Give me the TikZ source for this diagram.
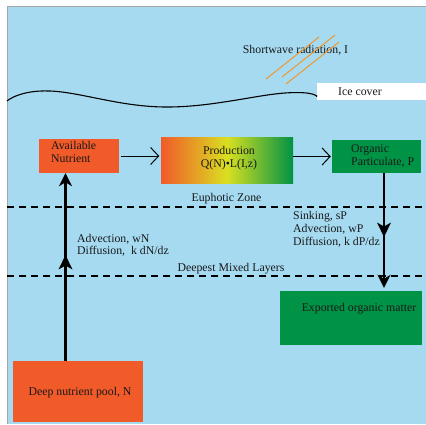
\documentclass[tikz,border=0pt]{standalone}
\usepackage{fontspec}
\setmainfont{Liberation Serif}
\usetikzlibrary{arrows.meta,calc}
\definecolor{sea}{HTML}{A5DAF1}
\definecolor{nutorange}{HTML}{F15A29}
\definecolor{orggreen}{HTML}{009245}
\definecolor{prodyellow}{HTML}{D9E021}
\definecolor{rayorange}{HTML}{F7931E}
\begin{document}
\begin{tikzpicture}[x=1pt,y=-1pt,
  box/.style={draw=none, inner sep=0pt},
  lbl/.style={font=\fontsize{11.8}{12.6}\selectfont, inner sep=0pt, align=left, text=black!90},
  thinarrow/.style={line width=1pt, -{Straight Barb[length=8pt,width=17pt,line width=1pt]}},
  thickarrow/.style={line width=2.2pt, -{Stealth[length=13pt,width=13pt,inset=4pt]}},
  dashline/.style={line width=1.1pt, dash pattern=on 7pt off 5pt},
  ray/.style={rayorange, line width=0.9pt}]
\useasboundingbox (0,0) rectangle (426,424);
\fill[white] (0,0) rectangle (426,424);
% background sea
\fill[sea] (7,6) rectangle (426,424);
\draw[gray!70, line width=1pt] (7,424) -- (7,6) -- (426,6);
% ice cover
\fill[white] (317,83) rectangle (426,100);
\node[lbl] (ice) at (360,92) {Ice cover};
% wave
\draw[line width=1.1pt] plot[smooth, tension=0.7] coordinates {(7,101) (50,91) (165,107) (285,93) (317,96.5)};
% shortwave
\node[lbl] (sw) at (295.5,50) {Shortwave radiation, I};
\draw[ray] (266,79) -- (319,37);
\draw[ray] (282,77) -- (335,35);
\draw[ray] (286,84) -- (339,42);
% boxes
\node[box, fill=nutorange, minimum width=80pt, minimum height=34pt] (avail) at (79,156) {};
\node[lbl, anchor=west] (availtxt) at (51,152) {Available\\Nutrient};
\shade[left color=nutorange, right color=orggreen, middle color=prodyellow] (161,137) rectangle (293,183);
\node[box, minimum width=132pt, minimum height=46pt] (prod) at (227,160) {};
\node[lbl, align=center] (prodtxt) at (229,158) {Production\\Q(N)•L(I,z)};
\node[box, fill=orggreen, minimum width=89pt, minimum height=33pt] (org) at (376.5,156.5) {};
\node[lbl, anchor=west] (orgtxt) at (351,156) {Organic\\Particulate, P};
\node[box, fill=orggreen, minimum width=142pt, minimum height=54pt] (exp) at (351,318) {};
\node[lbl] (exptxt) at (359,309) {Exported organic matter};
\node[box, fill=nutorange, minimum width=130pt, minimum height=61pt] (pool) at (78,391.5) {};
\node[lbl] (pooltxt) at (80,393) {Deep nutrient pool, N};
% zone lines
\draw[dashline] (7,207) -- (426,207);
\node[lbl] (euph) at (226.5,199) {Euphotic Zone};
\draw[dashline] (7,276) -- (426,276);
\node[lbl] (deep) at (231,269) {Deepest Mixed Layers};
% thin arrows
\draw[thinarrow, shorten <=2pt, shorten >=1.5pt] (avail.east) -- (avail.east -| prod.west);
\draw[thinarrow, shorten >=1pt] (prod.east |- org.west) -- (org.west);
% thick arrows
\coordinate (upx) at (65.5,0);
\coordinate (downx) at (384,0);
\coordinate (upstart) at (pool.north -| upx);
\coordinate (upend) at (avail.south -| upx);
\coordinate (dnstart) at (org.south -| downx);
\coordinate (dnend) at (exp.north -| downx);
\coordinate (upmid) at (65.5,255);
\coordinate (dnmid) at (384,237);
\draw[thickarrow] (upstart) -- (upend);
\draw[thickarrow, shorten >=3pt] (dnstart) -- (dnend);
\fill[black] (upmid) -- ++(7,14.5) -- ++(-7,-4) -- ++(-7,4) -- cycle;
\fill[black] (dnmid) -- ++(7,-14.5) -- ++(-7,4) -- ++(-7,-4) -- cycle;
% flux labels
\node[lbl, anchor=north west] (uptxt) at (77,234) {Advection, wN\\Diffusion,\ \ k dN/dz};
\node[lbl, anchor=north west] (downtxt) at (293,211.5) {Sinking, sP\\Advection, wP\\Diffusion, k dP/dz};
\end{tikzpicture}
\end{document}
